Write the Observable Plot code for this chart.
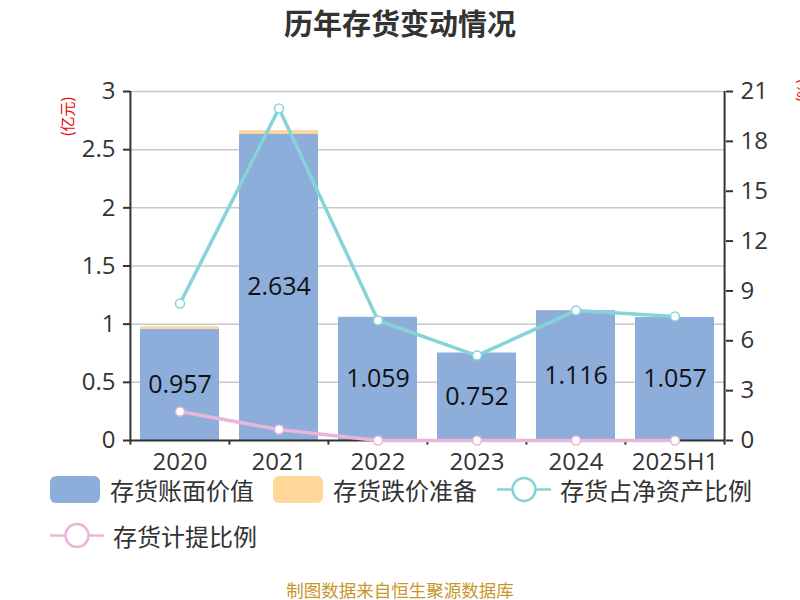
<!DOCTYPE html>
<html><head><meta charset="utf-8">
<script src="https://cdn.jsdelivr.net/npm/d3@7"></script>
<script src="https://cdn.jsdelivr.net/npm/@observablehq/plot@0.6"></script>
<style>
body{margin:0;background:#fff;font-family:"Open Sans","Noto Sans CJK SC",sans-serif;}
#wrap{position:relative;width:800px;height:600px;overflow:hidden;}
#title{position:absolute;top:2px;left:0;width:800px;text-align:center;font-size:29px;font-weight:bold;color:#333;font-family:"Noto Sans CJK SC",sans-serif;line-height:40px;}
#chart{position:absolute;top:0;left:0;}
.leg{position:absolute;display:flex;align-items:center;font-size:24px;color:#333;white-space:nowrap;font-family:"Noto Sans CJK SC",sans-serif;}
.sw{width:50px;height:27px;border-radius:6px;margin-right:10px;}
#src{position:absolute;top:580px;left:0;width:800px;text-align:center;font-size:17.5px;line-height:20px;color:#c9952b;font-family:"Noto Sans CJK SC",sans-serif;}
.ylab{position:absolute;color:#e00;font-size:15px;transform:rotate(-90deg);transform-origin:center;font-family:"Noto Sans CJK SC",sans-serif;}
</style></head>
<body>
<div id="wrap">
<div id="chart"></div>
<div id="title">历年存货变动情况</div>
<div class="ylab" style="left:46px;top:106px;">(亿元)</div>
<div class="ylab" style="left:790px;top:80px;">(%)</div>
<div id="legend"></div>
<div id="src">制图数据来自恒生聚源数据库</div>
</div>
<script>
const categories = ["2020","2021","2022","2023","2024","2025H1"];
const bookValue = [0.957, 2.634, 1.059, 0.752, 1.116, 1.057];
const provision = [0.02, 0.03, 0, 0, 0, 0];
const shareOfNetAssets = [8.24, 19.98, 7.22, 5.11, 7.82, 7.46];
const provisionRatio = [1.74, 0.66, 0, 0, 0, 0];
const leftTicks = [0, 0.5, 1, 1.5, 2, 2.5, 3];
const rightTicks = [0, 3, 6, 9, 12, 15, 18, 21];
const seriesNames = ["存货账面价值", "存货跌价准备", "存货占净资产比例", "存货计提比例"];
const colors = ["#8daddb", "#ffd899", "#86d4d7", "#e8b6d9"];

const rows = categories.map((c, i) => ({
  cat: c, book: bookValue[i], prov: provision[i],
  share: shareOfNetAssets[i], ratio: provisionRatio[i]
}));
const k = 3 / 21; // right axis to left axis
const step = 595 / 6;
const first = categories[0], last = categories[categories.length - 1];

const plot = Plot.plot({
  width: 800, height: 480,
  marginTop: 91, marginBottom: 40, marginLeft: 130, marginRight: 75,
  style: {fontFamily: '"Open Sans","Noto Sans CJK SC",sans-serif', color: "#333", background: "transparent"},
  x: {domain: categories, paddingInner: 0.2, paddingOuter: 0.1},
  y: {domain: [0, 3], nice: false},
  marks: [
    Plot.gridY(leftTicks.slice(1), {stroke: "#c8c8c8", strokeOpacity: 1, strokeWidth: 1.5}),
    Plot.barY(rows, {x: "cat", y1: 0, y2: "book", fill: colors[0]}),
    Plot.barY(rows, {x: "cat", y1: "book", y2: d => d.book + d.prov, fill: colors[1]}),
    Plot.text(rows, {x: "cat", y: d => d.book / 2, text: d => String(d.book), fontSize: 25, fill: "#111"}),
    Plot.ruleY([0], {stroke: "#333", strokeWidth: 2}),
    Plot.ruleX([first], {x: d => d, dx: -step / 2, y1: 0, y2: 3, stroke: "#333", strokeWidth: 2}),
    Plot.ruleX([last], {x: d => d, dx: step / 2, y1: 0, y2: 3, stroke: "#333", strokeWidth: 2}),
    Plot.ruleX(categories, {x: d => d, dx: -step / 2, y1: 0, y2: -0.04, stroke: "#333", strokeWidth: 2}),
    Plot.ruleX([last], {x: d => d, dx: step / 2, y1: 0, y2: -0.04, stroke: "#333", strokeWidth: 2}),
    Plot.line(rows, {x: "cat", y: d => d.share * k, stroke: colors[2], strokeWidth: 3.5}),
    Plot.dot(rows, {x: "cat", y: d => d.share * k, r: 4.5, fill: "#fff", stroke: colors[2], strokeWidth: 1.5}),
    Plot.line(rows, {x: "cat", y: d => d.ratio * k, stroke: colors[3], strokeWidth: 3.5}),
    Plot.dot(rows, {x: "cat", y: d => d.ratio * k, r: 4.5, fill: "#fff", stroke: colors[3], strokeWidth: 1.5}),
    Plot.axisX({tickSize: 0, tickPadding: 12, fontSize: 24, label: null, fill: "#333"}),
    Plot.axisY({ticks: leftTicks, tickFormat: d => String(d), tickSize: 7, tickPadding: 8, fontSize: 24, label: null, stroke: "#333", strokeWidth: 2, fill: "#333"}),
    Plot.axisY({anchor: "right", ticks: rightTicks.map(d => d * k), tickFormat: d => String(Math.round(d / k)), tickSize: 7, tickPadding: 8, fontSize: 24, label: null, stroke: "#333", strokeWidth: 2, fill: "#333"})
  ]
});
document.getElementById("chart").appendChild(plot);

// legend
const leg = document.getElementById("legend");
const items = [
  {type: "box", x: 50, y: 476, i: 0},
  {type: "box", x: 273, y: 476, i: 1},
  {type: "line", x: 497, y: 476, i: 2},
  {type: "line", x: 50, y: 522, i: 3}
];
items.forEach(it => {
  const d = document.createElement("div");
  d.className = "leg";
  d.style.left = it.x + "px";
  d.style.top = it.y + "px";
  d.style.height = "27px";
  if (it.type === "box") {
    d.innerHTML = `<div class="sw" style="background:${colors[it.i]}"></div><span>${seriesNames[it.i]}</span>`;
  } else {
    d.innerHTML = `<svg width="54" height="27" style="margin-right:9px"><line x1="0" x2="54" y1="13.5" y2="13.5" stroke="${colors[it.i]}" stroke-width="2.5"/><circle cx="27" cy="13.5" r="11.5" fill="#fff" stroke="${colors[it.i]}" stroke-width="2.5"/></svg><span>${seriesNames[it.i]}</span>`;
  }
  leg.appendChild(d);
});
</script>
</body></html>
